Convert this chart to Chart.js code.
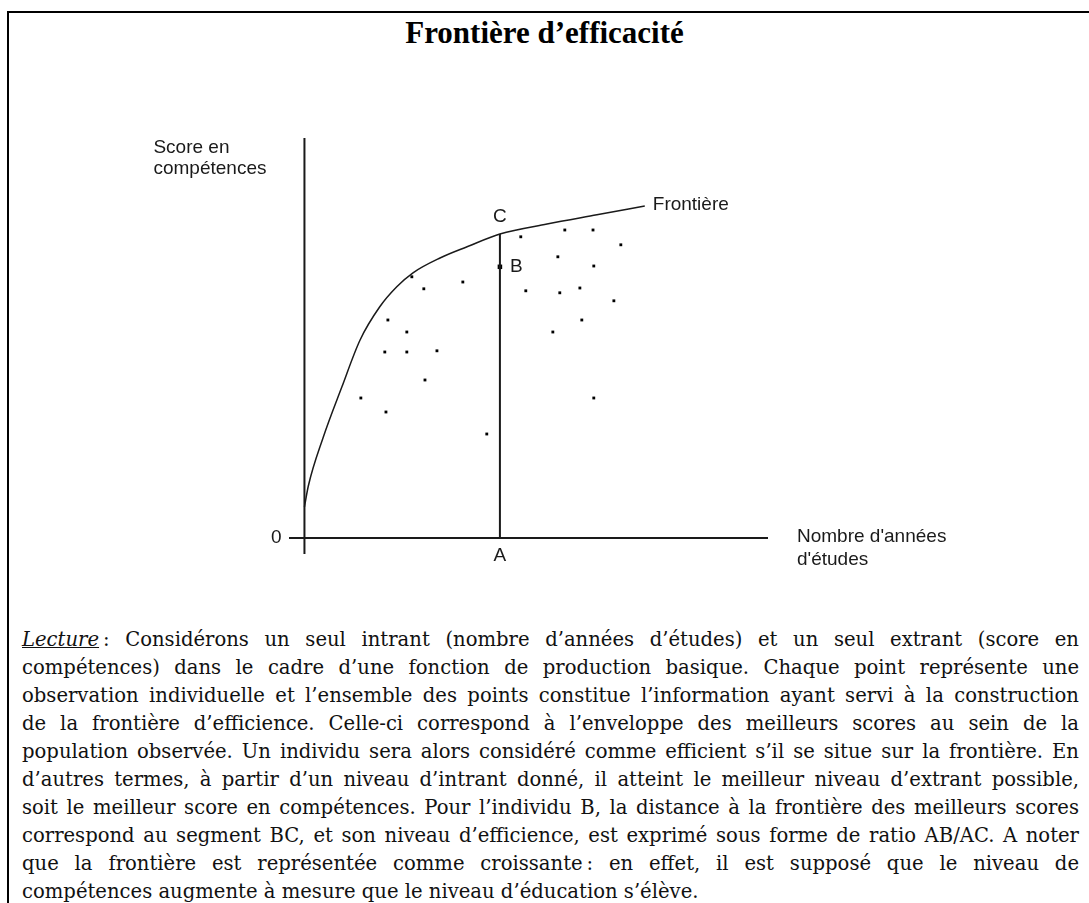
<!DOCTYPE html>
<html lang="fr">
<head>
<meta charset="utf-8">
<title>Frontière d’efficacité</title>
<script src="https://cdn.jsdelivr.net/npm/chart.js@4/dist/chart.umd.min.js"></script>
<style>
    html, body { margin: 0; padding: 0; background: #fff; }
    body { width: 1089px; height: 903px; position: relative; overflow: hidden; }
    #frame {
        position: absolute; left: 7px; top: 11px; width: 1200px; height: 1000px;
        border-left: 2px solid #000; border-top: 2px solid #000;
    }
    #title {
        position: absolute; left: 0; top: 15px; width: 1089px; text-align: center;
        font: bold 31px "Liberation Serif", serif; color: #000; line-height: 36px;
    }
    #chart { position: absolute; left: 0; top: 0; }
    #lecture {
        position: absolute; left: 22px; top: 626px; width: 1057px;
        font-family: "DejaVu Serif", serif; font-size: 19.6px; line-height: 28px; color: #111;
    }
    #lecture span { display: block; white-space: nowrap; text-align: justify; text-align-last: justify; }
    #lecture span.last { text-align-last: left; }
</style>
</head>
<body>
<div id="frame"></div>
<div id="title">Frontière d’efficacité</div>
<canvas id="chart" width="1089" height="600"></canvas>
<div id="lecture">
    <span><u><i>Lecture</i></u>&#8239;: Considérons un seul intrant (nombre d’années d’études) et un seul extrant (score en</span>
    <span>compétences) dans le cadre d’une fonction de production basique. Chaque point représente une</span>
    <span>observation individuelle et l’ensemble des points constitue l’information ayant servi à la construction</span>
    <span>de la frontière d’efficience. Celle-ci correspond à l’enveloppe des meilleurs scores au sein de la</span>
    <span>population observée. Un individu sera alors considéré comme efficient s’il se situe sur la frontière. En</span>
    <span>d’autres termes, à partir d’un niveau d’intrant donné, il atteint le meilleur niveau d’extrant possible,</span>
    <span>soit le meilleur score en compétences. Pour l’individu B, la distance à la frontière des meilleurs scores</span>
    <span>correspond au segment BC, et son niveau d’efficience, est exprimé sous forme de ratio AB/AC. A noter</span>
    <span>que la frontière est représentée comme croissante&#8239;: en effet, il est supposé que le niveau de</span>
    <span class="last">compétences augmente à mesure que le niveau d’éducation s’élève.</span>
</div>
<script>
// axis extents (years of study, skill score), arbitrary units
const xRange = [-0.4, 12];
const yRange = [-0.4, 10];

// frontier curve
const frontierX = [0, 0.1, 0.48, 0.97, 1.44, 1.95, 2.39, 2.81, 3.51, 4.21, 5.06, 6.28, 7.57, 8.81];
const frontierY = [0.78, 1.3, 2.5, 3.78, 4.95, 5.78, 6.28, 6.63, 7.0, 7.28, 7.6, 7.85, 8.08, 8.3];

// individual observations
const obsX = [2.78, 3.09, 4.10, 2.16, 2.65, 2.08, 2.65, 3.43, 3.12, 1.46, 2.11, 4.72,
              5.60, 6.74, 7.47, 8.19, 6.56, 7.49, 5.73, 6.61, 7.13, 8.01, 7.18, 6.43, 7.49];
const obsY = [6.53, 6.23, 6.40, 5.45, 5.15, 4.65, 4.65, 4.68, 3.95, 3.50, 3.15, 2.60,
              7.53, 7.70, 7.70, 7.33, 7.03, 6.80, 6.18, 6.13, 6.25, 5.93, 5.45, 5.15, 3.50];

// individual A / B / C
const pointA = 5.06;
const pointB = 6.78;
const pointC = 7.6;

const ink = '#1a1a1a';
const sans = '"Liberation Sans", Arial, sans-serif';

const axesPlugin = {
    id: 'axes',
    beforeDatasetsDraw(chart) {
        const { ctx, scales: { x, y } } = chart;
        ctx.save();
        ctx.strokeStyle = ink;
        ctx.lineWidth = 2;
        ctx.beginPath();
        ctx.moveTo(x.getPixelForValue(xRange[0]), y.getPixelForValue(0));
        ctx.lineTo(x.getPixelForValue(xRange[1]), y.getPixelForValue(0));
        ctx.moveTo(x.getPixelForValue(0), y.getPixelForValue(yRange[0]));
        ctx.lineTo(x.getPixelForValue(0), y.getPixelForValue(yRange[1]));
        ctx.stroke();
        ctx.restore();
    },
    afterDatasetsDraw(chart) {
        const { ctx, scales: { x, y } } = chart;
        const px = (v) => x.getPixelForValue(v);
        const py = (v) => y.getPixelForValue(v);
        ctx.save();
        ctx.fillStyle = ink;
        ctx.font = `19px ${sans}`;
        ctx.textBaseline = 'middle';

        ctx.textAlign = 'right';
        ctx.fillText('0', px(0) - 23, py(0));

        ctx.textAlign = 'center';
        ctx.fillText('A', px(pointA), py(0) + 18);
        ctx.fillText('C', px(pointA), py(pointC) - 17);

        ctx.textAlign = 'left';
        ctx.fillText('B', px(pointA) + 10, py(pointB));
        const last = frontierX.length - 1;
        ctx.fillText('Frontière', px(frontierX[last]) + 8, py(frontierY[last]) - 1);

        // axis titles
        ctx.fillText('Score en', px(0) - 151, py(yRange[1]) + 10);
        ctx.fillText('compétences', px(0) - 151, py(yRange[1]) + 31);
        ctx.fillText("Nombre d'années", px(xRange[1]) + 29, py(0) - 1);
        ctx.fillText("d'études", px(xRange[1]) + 29, py(0) + 22);
        ctx.restore();
    },
};

new Chart(document.getElementById('chart'), {
    type: 'scatter',
    data: {
        datasets: [
            {
                type: 'line',
                label: 'Frontière',
                data: frontierX.map((v, i) => ({ x: v, y: frontierY[i] })),
                borderColor: ink,
                borderWidth: 1.5,
                pointRadius: 0,
                cubicInterpolationMode: 'monotone',
                fill: false,
            },
            {
                type: 'line',
                label: 'AC',
                data: [{ x: pointA, y: 0 }, { x: pointA, y: pointC }],
                borderColor: ink,
                borderWidth: 2,
                pointRadius: 0,
                fill: false,
            },
            {
                label: 'Observations',
                data: obsX.map((v, i) => ({ x: v, y: obsY[i] })),
                pointStyle: 'rect',
                pointRadius: 2,
                backgroundColor: '#000',
                borderWidth: 0,
            },
            {
                label: 'B',
                data: [{ x: pointA, y: pointB }],
                pointStyle: 'rect',
                pointRadius: 3.2,
                backgroundColor: '#000',
                borderWidth: 0,
            },
        ],
    },
    options: {
        responsive: false,
        animation: false,
        layout: { padding: { left: 289, right: 321, top: 138, bottom: 46 } },
        scales: {
            x: { type: 'linear', min: xRange[0], max: xRange[1], display: false },
            y: { type: 'linear', min: yRange[0], max: yRange[1], display: false },
        },
        plugins: { legend: { display: false }, tooltip: { enabled: false } },
    },
    plugins: [axesPlugin],
});
</script>
</body>
</html>
